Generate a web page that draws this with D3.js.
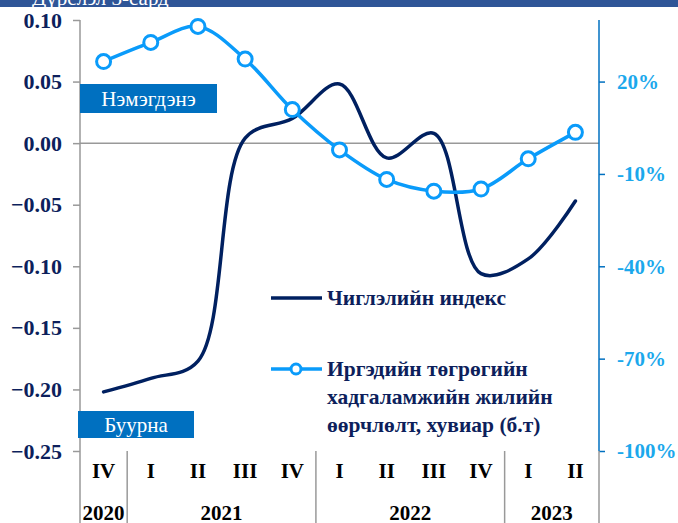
<!DOCTYPE html>
<html><head><meta charset="utf-8">
<script src="https://cdn.jsdelivr.net/npm/d3@7"></script>
<style>body{margin:0;background:#fff}svg{display:block}svg text{font-family:"Liberation Serif","Times New Roman",serif !important}</style>
</head><body><svg id="c" width="678" height="523" font-family="Liberation Serif"></svg>
<script>
const quarters = ["IV","I","II","III","IV","I","II","III","IV","I","II"];
const years = [{y:"2020",from:0,to:1},{y:"2021",from:1,to:5},{y:"2022",from:5,to:9},{y:"2023",from:9,to:11}];
const indexValues = [-0.202,-0.191,-0.177,0.004,0.020,0.048,-0.012,0.008,-0.106,-0.094,-0.047];
const savingsValues = [26.5,32.7,37.9,27.3,10.9,-2.2,-11.8,-15.6,-14.9,-5.1,3.5];
const leftTicks = [0.10,0.05,0.00,-0.05,-0.10,-0.15,-0.20,-0.25];
const rightTicks = [20,-10,-40,-70,-100];
const seriesNames = ["Чиглэлийн индекс", ["Иргэдийн төгрөгийн","хадгаламжийн жилийн","өөрчлөлт, хувиар (б.т)"]];

const FF = "Liberation Serif";
const svg = d3.select("#c");
const L = 80, R = 599, T = 20, B = 451;
const x = d3.scaleBand().domain(d3.range(quarters.length)).range([L,R]);
const cx = i => x(i) + x.bandwidth()/2;
const yL = d3.scaleLinear().domain([-0.25,0.10]).range([B,T]);
const yR = d3.scaleLinear().domain([-100,40]).range([B,T]);

// top banner (cut off title)
svg.append("rect").attr("x",0).attr("y",0).attr("width",678).attr("height",7).attr("fill","#2F5597");
svg.append("text").attr("x",32).attr("y",5).attr("fill","#fff").attr("font-family",FF).attr("font-size",21).text("Дүрслэл 3-сард");

// zero line
svg.append("line").attr("x1",L).attr("x2",R).attr("y1",yL(0)).attr("y2",yL(0)).attr("stroke","#999").attr("stroke-width",1.5);

// left axis
const la = svg.append("g").attr("transform",`translate(${L},0)`)
  .call(d3.axisLeft(yL).tickValues(leftTicks).tickSize(7).tickPadding(11).tickFormat(d3.format(".2f")));
la.attr("font-family",FF);
la.select(".domain").remove();
la.selectAll(".tick line").attr("stroke","#999").attr("stroke-width",1.5);
la.selectAll(".tick text").attr("font-size",22).attr("font-weight","bold").attr("fill","#0D1F5C").attr("font-family",FF);
svg.append("line").attr("x1",L).attr("x2",L).attr("y1",T).attr("y2",523).attr("stroke","#999").attr("stroke-width",1.5);

// right axis
const ra = svg.append("g").attr("transform",`translate(${R},0)`)
  .call(d3.axisRight(yR).tickValues(rightTicks).tickSize(6).tickPadding(12).tickFormat(d=>d+"%"));
ra.attr("font-family",FF);
ra.select(".domain").remove();
ra.selectAll(".tick line").attr("stroke","#0070C0").attr("stroke-width",1.5);
ra.selectAll(".tick text").attr("font-size",21).attr("font-weight","bold").attr("fill","#1BA8EC").attr("font-family",FF);
svg.append("line").attr("x1",R).attr("x2",R).attr("y1",T).attr("y2",B).attr("stroke","#0070C0").attr("stroke-width",1.5);

// category separators
[1,5,9,11].forEach(k=>{
  const xx = k===11 ? R : x(k);
  svg.append("line").attr("x1",xx).attr("x2",xx).attr("y1",B).attr("y2",523).attr("stroke","#999").attr("stroke-width",1.5);
});
quarters.forEach((q,i)=>{
  svg.append("text").attr("x",cx(i)).attr("y",478).attr("text-anchor","middle").attr("font-family",FF).attr("font-size",21).attr("font-weight","bold").attr("fill","#000").text(q);
});
years.forEach(g=>{
  const xm = (x(g.from) + (g.to>=quarters.length? R : x(g.to)))/2;
  svg.append("text").attr("x",xm).attr("y",520).attr("text-anchor","middle").attr("font-family",FF).attr("font-size",21).attr("font-weight","bold").attr("fill","#000").text(g.y);
});

// label boxes
function box(x0,y0,w,h,t){
  svg.append("rect").attr("x",x0).attr("y",y0).attr("width",w).attr("height",h).attr("fill","#0070C0");
  svg.append("text").attr("x",x0+w/2).attr("y",y0+h/2+7).attr("text-anchor","middle").attr("font-family",FF).attr("font-size",21).attr("fill","#fff").text(t);
}
box(80,84,137,29,"Нэмэгдэнэ");
box(78,411,116,27,"Буурна");

// lines
const curve = d3.curveCatmullRom.alpha(0.5);
const lineL = d3.line().x((d,i)=>cx(i)).y(d=>yL(d)).curve(curve);
const lineR = d3.line().x((d,i)=>cx(i)).y(d=>yR(d)).curve(curve);
svg.append("path").attr("d",lineL(indexValues)).attr("fill","none").attr("stroke","#002060").attr("stroke-width",3.5).attr("stroke-linecap","round");
svg.append("path").attr("d",lineR(savingsValues)).attr("fill","none").attr("stroke","#0A9BFA").attr("stroke-width",3.5);
svg.selectAll("circle.m").data(savingsValues).join("circle").attr("class","m")
  .attr("cx",(d,i)=>cx(i)).attr("cy",d=>yR(d)).attr("r",7).attr("fill","#fff").attr("stroke","#0A9BFA").attr("stroke-width",3);

// legend
svg.append("line").attr("x1",271).attr("x2",322).attr("y1",298).attr("y2",298).attr("stroke","#002060").attr("stroke-width",3.5);
svg.append("text").attr("x",327).attr("y",305).attr("font-family",FF).attr("font-size",21.5).attr("font-weight","bold").attr("fill","#0D1F5C").text(seriesNames[0]);
svg.append("line").attr("x1",271).attr("x2",322).attr("y1",369).attr("y2",369).attr("stroke","#0A9BFA").attr("stroke-width",3.5);
svg.append("circle").attr("cx",296).attr("cy",369).attr("r",5).attr("fill","#fff").attr("stroke","#0A9BFA").attr("stroke-width",3);
seriesNames[1].forEach((t,i)=>{
  svg.append("text").attr("x",327).attr("y",376+i*28).attr("font-family",FF).attr("font-size",21.5).attr("font-weight","bold").attr("fill","#0D1F5C").text(t);
});
</script></body></html>
